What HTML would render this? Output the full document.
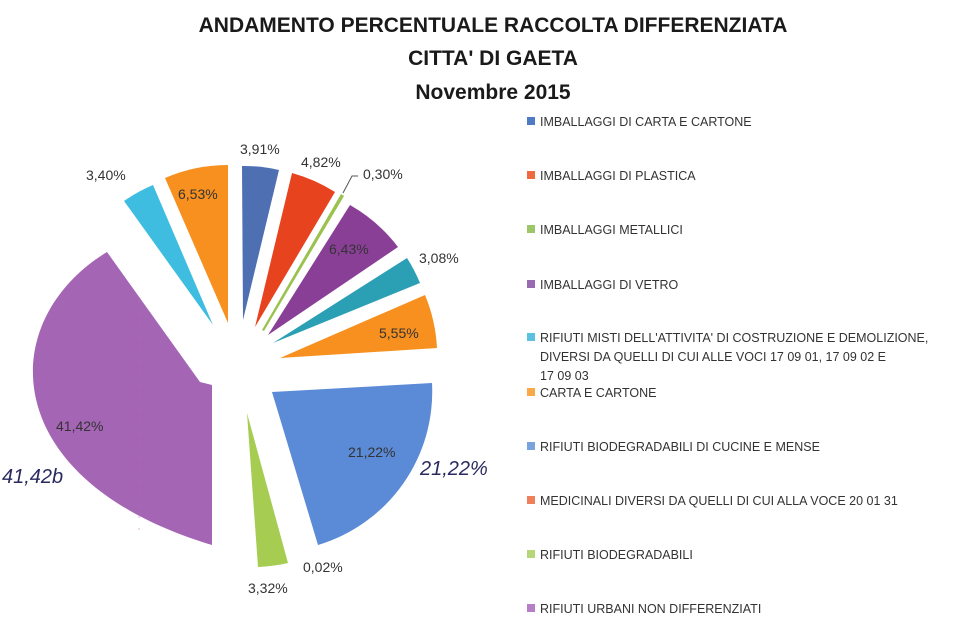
<!DOCTYPE html>
<html><head><meta charset="utf-8"><style>
html,body{margin:0;padding:0;background:#fff;}
svg{display:block;font-family:"Liberation Sans",sans-serif;}
</style></head><body>
<svg width="963" height="629" viewBox="0 0 963 629" xmlns="http://www.w3.org/2000/svg">
<g font-weight="bold" font-size="21" fill="#1a1a1a" text-anchor="middle">
<text x="493" y="32">ANDAMENTO PERCENTUALE RACCOLTA DIFFERENZIATA</text>
<text x="493" y="65">CITTA' DI GAETA</text>
<text x="493" y="99">Novembre 2015</text>
</g>
<path d="M243,320 L242,166 A155,155 0 0 1 279,170 Z" fill="#4f6fb3"/>
<path d="M255,327 L292,173 A160,160 0 0 1 335,192 Z" fill="#e8431f"/>
<path d="M262,330 L341,194 L344,196 L264,331 Z" fill="#9bc24e"/>
<path d="M268,335 L350,205 A160,160 0 0 1 398,247 Z" fill="#8a3f97"/>
<path d="M273,343 L407,258 A160,160 0 0 1 420,283 Z" fill="#2ba0b5"/>
<path d="M280,358 L425,295 A160,160 0 0 1 437,348 Z" fill="#f7901e"/>
<path d="M272,392 L432,383 A160,160 0 0 1 318,545 Z" fill="#5b8ad6"/>
<path d="M247,413 L288,563 A155,155 0 0 1 258,567 Z" fill="#a6cc52"/>
<path d="M212,385 L200,382 L107,252 C-5,320 -5,480 212,545 Z" fill="#a565b5"/>
<path d="M213,325 L124,201 A155,155 0 0 1 153,185 Z" fill="#3fbde0"/>
<path d="M228,323 L165,178 A158,158 0 0 1 228,165 Z" fill="#f7901e"/>
<line x1="139" y1="300" x2="139" y2="540" stroke="#c76ab9" stroke-width="1" stroke-dasharray="2,10" opacity="0.5"/>
<polyline points="343,193 352,176 358,176" fill="none" stroke="#555" stroke-width="1"/>
<g font-size="14" fill="#333">
<text x="240" y="154">3,91%</text>
<text x="301" y="167">4,82%</text>
<text x="363" y="179">0,30%</text>
<text x="329" y="254">6,43%</text>
<text x="419" y="263">3,08%</text>
<text x="379" y="338">5,55%</text>
<text x="348" y="457">21,22%</text>
<text x="303" y="572">0,02%</text>
<text x="248" y="593">3,32%</text>
<text x="56" y="431">41,42%</text>
<text x="86" y="180">3,40%</text>
<text x="178" y="199">6,53%</text>
</g>
<g font-size="20" fill="#2a2a60" font-style="italic">
<text x="2" y="483">41,42b</text>
<text x="420" y="475">21,22%</text>
</g>
<g font-size="12.5" fill="#333">
<rect x="527" y="117" width="8" height="8" fill="#4f7bc4"/><text x="540" y="126">IMBALLAGGI DI CARTA E CARTONE</text>
<rect x="527" y="171" width="8" height="8" fill="#ef6a3f"/><text x="540" y="180">IMBALLAGGI DI PLASTICA</text>
<rect x="527" y="225" width="8" height="8" fill="#9bc768"/><text x="540" y="234">IMBALLAGGI METALLICI</text>
<rect x="527" y="280" width="8" height="8" fill="#9a6ab0"/><text x="540" y="289">IMBALLAGGI DI VETRO</text>
<rect x="527" y="333" width="8" height="8" fill="#5cc0e0"/><text x="540" y="342">RIFIUTI MISTI DELL'ATTIVITA' DI COSTRUZIONE E DEMOLIZIONE,</text>
<text x="540" y="361">DIVERSI DA QUELLI DI CUI ALLE VOCI 17 09 01, 17 09 02 E</text>
<text x="540" y="380">17 09 03</text>
<rect x="527" y="388" width="8" height="8" fill="#f8a94a"/><text x="540" y="397">CARTA E CARTONE</text>
<rect x="527" y="442" width="8" height="8" fill="#7aa3dd"/><text x="540" y="451">RIFIUTI BIODEGRADABILI DI CUCINE E MENSE</text>
<rect x="527" y="496" width="8" height="8" fill="#f0805a"/><text x="540" y="505">MEDICINALI DIVERSI DA QUELLI DI CUI ALLA VOCE 20 01 31</text>
<rect x="527" y="550" width="8" height="8" fill="#b7d67a"/><text x="540" y="559">RIFIUTI BIODEGRADABILI</text>
<rect x="527" y="604" width="8" height="8" fill="#b47fc4"/><text x="540" y="613">RIFIUTI URBANI NON DIFFERENZIATI</text>
</g>
</svg>
</body></html>
